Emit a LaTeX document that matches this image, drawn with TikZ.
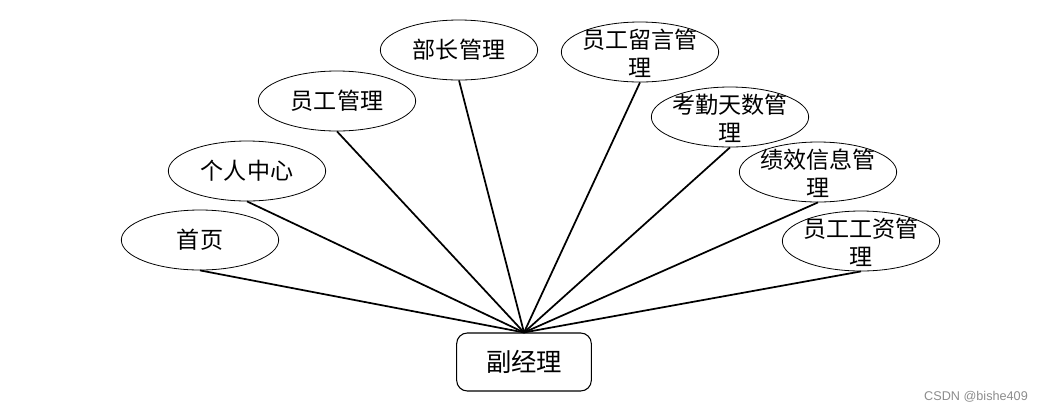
\documentclass[tikz,border=0pt]{standalone}
\usepackage{fontspec}
\setmainfont{Noto Sans CJK SC}
\newfontfamily\wmfont{Liberation Sans}
\usetikzlibrary{shapes.geometric}
\begin{document}
\begin{tikzpicture}[x=0.75pt,y=-0.75pt, every node/.style={font=\fontsize{17.3}{20.5}\selectfont},
  ell/.style={draw,ellipse,line width=0.6pt,minimum width=118pt,minimum height=45pt,inner sep=0pt,align=center},
  ell2/.style={ell,label={[align=center,inner sep=0pt,yshift=-1pt]center:{#1}}},
  box/.style={draw,rounded corners=8pt,line width=0.8pt,minimum width=101pt,minimum height=43.5pt,font=\fontsize{19}{22}\selectfont},
  link/.style={line width=1.3pt}]
\useasboundingbox (0,0) rectangle (1050,412);
\node[box] (fjl) at (524,362) {副经理};
\node[ell] (sy) at (200,240) {首页};
\node[ell] (grzx) at (247,171) {个人中心};
\node[ell] (yggl) at (337,101) {员工管理};
\node[ell] (bzgl) at (459,50) {部长管理};
\node[ell2={员工留言管\\理}] (lygl) at (640,52) {};
\node[ell2={考勤天数管\\理}] (kqgl) at (730,117) {};
\node[ell2={绩效信息管\\理}] (jxgl) at (818,172) {};
\node[ell2={员工工资管\\理}] (gzgl) at (861,241) {};
\foreach \n in {sy,grzx,yggl,bzgl,lygl,kqgl,jxgl,gzgl}
  \draw[link] (\n.south) -- (fjl.north);
\node[font=\wmfont\fontsize{9.5}{11}\selectfont,text=black!45] (wm) at (976,397) {CSDN @bishe409};
\end{tikzpicture}
\end{document}
